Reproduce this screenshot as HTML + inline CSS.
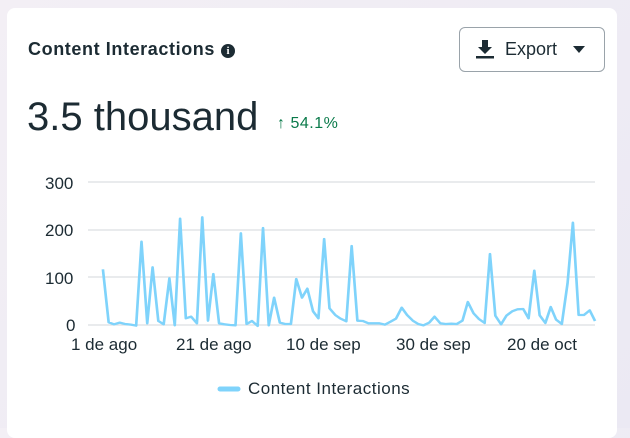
<!DOCTYPE html>
<html><head><style>
body{margin:0;width:630px;height:428px;background:linear-gradient(135deg,#f3eff5,#ebe9f3);font-family:"Liberation Sans",sans-serif;overflow:hidden;position:relative}
.card{position:absolute;left:7px;top:8px;width:610px;height:430px;background:#fff;border-radius:8px}
.t{position:absolute;left:28px;top:39px;font-size:18px;font-weight:bold;color:#1c2b33;letter-spacing:0.6px}
.info{display:inline-block;width:14px;height:14px;border-radius:50%;background:#1c2b33;color:#fff;font-size:11px;text-align:center;line-height:14px;vertical-align:1px;margin-left:6px;font-family:"Liberation Serif",serif;letter-spacing:0}
.btn{position:absolute;left:459px;top:27px;width:146px;height:45px;border:1px solid #9aa3aa;border-radius:6px;box-sizing:border-box}
.btn span{position:absolute;left:45px;top:11px;font-size:18px;color:#1c2b33}
.big{position:absolute;left:27px;top:95px;font-size:40px;color:#1c2b33}
.pct{position:absolute;left:277px;top:115px;font-size:16px;color:#0a7a4a;letter-spacing:0.5px}
.lbl{position:absolute;font-size:16px;color:#1c2b33}
</style></head><body>
<div class="card"></div>
<div class="t">Content Interactions<span class="info">i</span></div>
<div class="btn"><svg style="position:absolute;left:15px;top:11px" width="20" height="20" viewBox="0 0 20 20"><path d="M7 1h6v7h4l-7 7-7-7h4z" fill="#1c2b33"/><rect x="1" y="17" width="18" height="2.5" fill="#1c2b33"/></svg><span>Export</span><svg style="position:absolute;left:113px;top:18px" width="12" height="8"><path d="M0 0h12L6 7z" fill="#1c2b33"/></svg></div>
<div class="big">3.5 thousand</div>
<div class="pct">↑ 54.1%</div>
<svg style="position:absolute;left:0;top:0" width="630" height="428">
<g stroke="#dcdfe2" stroke-width="1.3"><line x1="88" y1="182" x2="595" y2="182"/><line x1="88" y1="230" x2="595" y2="230"/><line x1="88" y1="277" x2="595" y2="277"/><line x1="88" y1="325" x2="595" y2="325"/></g>
<g transform="translate(20,170) scale(0.3821,0.3333)"><polyline fill="none" stroke="#7fd3fb" stroke-width="7" stroke-linejoin="round" points="217,298 232,457 246,463 261,458 275,462 290,464 304,467 318,215 333,460 347,292 362,453 376,463 391,325 405,466 419,146 434,445 448,440 463,460 477,142 492,452 506,312 521,460 535,463 550,465 564,466 578,190 593,462 607,453 622,468 636,174 651,466 665,383 680,458 694,462 709,462 723,327 738,383 752,356 767,424 781,445 796,207 810,415 825,435 839,446 854,454 868,228 883,452 897,453 912,460 926,460 941,460 955,464 970,455 984,446 999,413 1013,435 1028,452 1042,462 1056,466 1071,458 1085,440 1100,460 1114,462 1129,461 1143,462 1158,452 1172,396 1187,430 1201,447 1216,459 1230,252 1244,437 1259,463 1273,437 1288,424 1302,418 1317,417 1331,445 1346,302 1360,436 1375,459 1389,411 1403,449 1418,462 1433,340 1447,158 1462,435 1476,435 1491,421 1505,453"/></g>
<line x1="220" y1="389" x2="238" y2="389" stroke="#7fd3fb" stroke-width="5" stroke-linecap="round"/>
</svg>
<div class="lbl" style="left:45px;top:174px;font-size:17px">300</div>
<div class="lbl" style="left:45px;top:221px;font-size:17px">200</div>
<div class="lbl" style="left:45px;top:269px;font-size:17px">100</div>
<div class="lbl" style="left:66px;top:316px;font-size:17px">0</div>
<div class="lbl" style="left:71px;top:335px;font-size:17px">1 de ago</div>
<div class="lbl" style="left:176px;top:335px;font-size:17px">21 de ago</div>
<div class="lbl" style="left:286px;top:335px;font-size:17px">10 de sep</div>
<div class="lbl" style="left:396px;top:335px;font-size:17px">30 de sep</div>
<div class="lbl" style="left:507px;top:335px;font-size:17px">20 de oct</div>
<div class="lbl" style="left:248px;top:379px;font-size:17px;letter-spacing:0.5px">Content Interactions</div>
</body></html>
